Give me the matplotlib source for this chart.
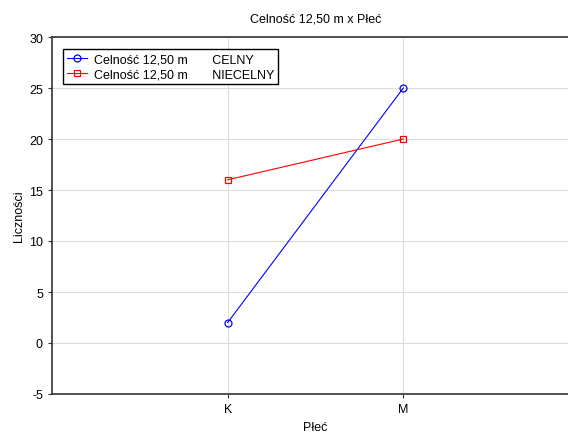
import matplotlib
matplotlib.use("Agg")
import matplotlib.pyplot as plt

categories = ["K", "M"]
celny = [2, 25]
niecelny = [16, 20]
yticks = [-5, 0, 5, 10, 15, 20, 25, 30]

plt.rcParams['font.family'] = ['Liberation Sans', 'DejaVu Sans']
plt.rcParams['axes.unicode_minus'] = False

fig = plt.figure(figsize=(5.68, 4.35), dpi=100)
ax = fig.add_axes([52/568, 40/435, 527/568, 357/435])

x = list(range(len(categories)))
ax.plot(x, celny, color='blue', marker='o', markersize=5, markerfacecolor='none',
        markeredgewidth=0.9, linewidth=0.8, label='Celność 12,50 m       CELNY')
ax.plot(x, niecelny, color='red', marker='s', markersize=5, markerfacecolor='none',
        markeredgewidth=0.9, linewidth=0.8, label='Celność 12,50 m       NIECELNY')

ax.set_xlim(-1, 2)
ax.set_ylim(-5, 30)
ax.set_xticks(x)
ax.set_xticklabels(categories)
ax.set_yticks(yticks)
ax.grid(True, color='#dddddd', linewidth=0.8)
ax.set_axisbelow(True)
for s in ax.spines.values():
    s.set_color('#333333')
    s.set_linewidth(1.2)
ax.tick_params(labelsize=9, length=3, width=0.8, color='#333333')
ax.set_xlabel('Płeć', fontsize=9, labelpad=4)
ax.set_ylabel('Liczności', fontsize=9, labelpad=3)
ax.set_title('Celność 12,50 m x Płeć', fontsize=9, pad=11)

leg = ax.legend(loc='upper left', bbox_to_anchor=(0.021, 0.965), fontsize=9,
                handlelength=1.6, handletextpad=0.5, borderpad=0.35,
                labelspacing=0.18, fancybox=False, framealpha=1,
                edgecolor='black', borderaxespad=0)
leg.get_frame().set_linewidth(1.0)

fig.savefig('out.png', dpi=100)
